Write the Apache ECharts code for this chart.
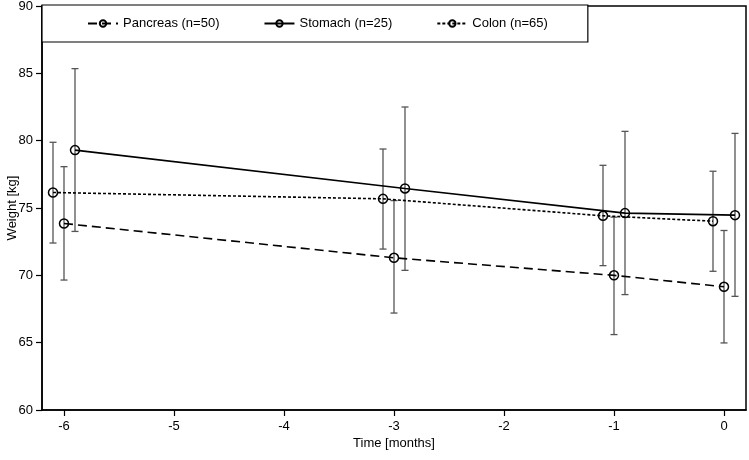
<!DOCTYPE html>
<html><head><meta charset="utf-8">
<script src="https://cdn.jsdelivr.net/npm/echarts@6/dist/echarts.min.js"></script>
<style>html,body{margin:0;padding:0;background:#fff}#c{width:749px;height:460px}</style>
</head><body><div id="c"></div>
<script>
const seriesNames = ['Pancreas (n=50)', 'Stomach (n=25)', 'Colon (n=65)'];
const xTicks = [-6, -5, -4, -3, -2, -1, 0];
const yTicks = [60, 65, 70, 75, 80, 85, 90];

const pancreasX = [-6, -3, -1, 0];
const pancreasMean = [73.85, 71.3, 70.0, 69.15];
const pancreasUpper = [78.07, 75.55, 74.32, 73.33];
const pancreasLower = [69.65, 67.2, 65.6, 64.98];

const stomachX = [-5.9, -2.9, -0.9, 0.1];
const stomachMean = [79.3, 76.45, 74.62, 74.47];
const stomachUpper = [85.35, 82.5, 80.69, 80.54];
const stomachLower = [73.26, 70.37, 68.57, 68.44];

const colonX = [-6.1, -3.1, -1.1, -0.1];
const colonMean = [76.15, 75.68, 74.42, 74.02];
const colonUpper = [79.88, 79.38, 78.17, 77.73];
const colonLower = [72.4, 71.95, 70.72, 70.3];

const FONT = 'Liberation Sans, Arial, sans-serif';
const groups = [
  {name: seriesNames[0], x: pancreasX, m: pancreasMean, u: pancreasUpper, l: pancreasLower, dash: [9, 5]},
  {name: seriesNames[1], x: stomachX, m: stomachMean, u: stomachUpper, l: stomachLower, dash: 'solid'},
  {name: seriesNames[2], x: colonX, m: colonMean, u: colonUpper, l: colonLower, dash: [3, 2]}
];

const series = [];
groups.forEach(g => {
  series.push({
    name: g.name, type: 'line', z: 3,
    data: g.x.map((x, i) => [x, g.m[i]]),
    symbol: 'circle', symbolSize: 9,
    itemStyle: {color: 'rgba(0,0,0,0)', borderColor: '#000', borderWidth: 1.5},
    lineStyle: {color: '#000', width: 1.6, type: g.dash},
    emphasis: {disabled: true}
  });
});
groups.forEach(g => {
  series.push({
    name: g.name, type: 'custom', z: 1, silent: true,
    encode: {x: 0, y: [1, 2]},
    data: g.x.map((x, i) => [x, g.l[i], g.u[i]]),
    renderItem: (params, api) => {
      const x = api.value(0);
      const lo = api.coord([x, api.value(1)]);
      const hi = api.coord([x, api.value(2)]);
      const w = 3.5;
      const st = {stroke: '#555', lineWidth: 1.3};
      return {type: 'group', children: [
        {type: 'line', shape: {x1: lo[0], y1: lo[1], x2: hi[0], y2: hi[1]}, style: st},
        {type: 'line', shape: {x1: lo[0]-w, y1: lo[1], x2: lo[0]+w, y2: lo[1]}, style: st},
        {type: 'line', shape: {x1: hi[0]-w, y1: hi[1], x2: hi[0]+w, y2: hi[1]}, style: st}
      ]};
    }
  });
});

const chart = echarts.init(document.getElementById('c'), null, {renderer: 'canvas'});
chart.setOption({
  animation: false,
  backgroundColor: '#fff',
  textStyle: {fontFamily: FONT},
  grid: {left: 42, right: 3, top: 6, bottom: 50, show: true, borderColor: '#000', borderWidth: 1.5, containLabel: false, outerBoundsMode: 'none'},
  legend: {
    data: seriesNames,
    left: 42, top: 5, padding: [12, 40, 12, 45], itemGap: 44, itemWidth: 30, itemHeight: 8,
    borderColor: '#000', borderWidth: 1.2, backgroundColor: '#fff',
    textStyle: {fontFamily: FONT, fontSize: 13, color: '#000'}
  },
  xAxis: {
    type: 'value', min: -6.2, max: 0.2,
    name: 'Time [months]', nameLocation: 'middle', nameGap: 27, nameMoveOverlap: false,
    nameTextStyle: {fontFamily: FONT, fontSize: 13, color: '#000'},
    axisLine: {onZero: false, lineStyle: {color: '#000', width: 1.5}},
    axisTick: {show: true, length: 6, customValues: xTicks, lineStyle: {color: '#000', width: 1.2}},
    axisLabel: {customValues: xTicks, fontFamily: FONT, fontSize: 13, color: '#000', margin: 10},
    splitLine: {show: false}
  },
  yAxis: {
    type: 'value', min: 60, max: 90, interval: 5,
    name: 'Weight [kg]', nameLocation: 'middle', nameGap: 23, nameRotate: 90, nameMoveOverlap: false,
    nameTextStyle: {fontFamily: FONT, fontSize: 13, color: '#000'},
    axisLine: {show: true, onZero: false, lineStyle: {color: '#000', width: 1.5}},
    axisTick: {show: true, length: 6, lineStyle: {color: '#000', width: 1.2}},
    axisLabel: {fontFamily: FONT, fontSize: 13, color: '#000', margin: 9},
    splitLine: {show: false}
  },
  series: series
});
</script></body></html>
